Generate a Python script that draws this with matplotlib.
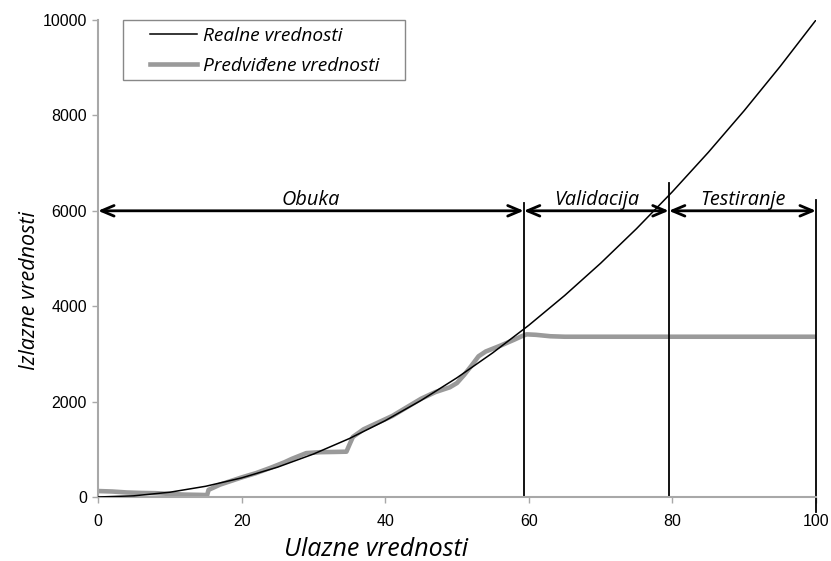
import numpy as np
import matplotlib
matplotlib.use('Agg')
import matplotlib.pyplot as plt
from matplotlib.patches import Rectangle

# real values (read at steps of 5)
x_real = [0, 5, 10, 15, 20, 25, 30, 35, 40, 45, 50, 55, 60, 65, 70, 75, 80, 85, 90, 95, 100]
y_real = [0, 25, 100, 225, 400, 625, 900, 1225, 1600, 2025, 2500, 3025, 3600, 4225, 4900,
          5625, 6400, 7225, 8100, 9025, 10000]

# predicted values
x_pred = [0, 2, 4, 6, 8, 10, 12, 14, 15.2, 15.4, 17, 19, 20, 22, 24, 26, 27, 29, 31, 33, 34.6,
          35, 35.5, 37, 39, 41, 43, 45, 47, 49, 50, 51, 52, 53, 54, 56, 58, 59, 59.7, 61, 63,
          65, 70, 80, 90, 100]
y_pred = [125, 115, 95, 85, 80, 65, 50, 45, 40, 150, 260, 360, 410, 500, 610, 730, 800, 920,
          940, 945, 950, 1090, 1260, 1420, 1560, 1700, 1880, 2060, 2200, 2300, 2390, 2560,
          2750, 2950, 3050, 3170, 3300, 3370, 3410, 3400, 3370, 3360, 3360, 3360, 3360, 3360]

# phase boundaries and labels
bounds = [0, 59.3, 79.5, 100]
phases = ['Obuka', 'Validacija', 'Testiranje']
line_tops = [6160, 6580, 6230]

ital = {'family': 'Open Sans', 'style': 'italic'}

fig = plt.figure(figsize=(8.31, 5.61), dpi=100)
ax = fig.add_axes([98/831, 1-497/561, (816-98)/831, (497-20)/561])

ax.plot(x_real, y_real, color='black', linewidth=1.1, label='Realne vrednosti', zorder=3)
ax.plot(x_pred, y_pred, color='#9a9a9a', linewidth=3.3, label='Predviđene vrednosti', zorder=2)

# vertical boundary lines
ax.plot([bounds[1], bounds[1]], [0, line_tops[0]], color='black', lw=1.3, clip_on=False)
ax.plot([bounds[2], bounds[2]], [0, line_tops[1]], color='black', lw=1.3, clip_on=False)
ax.plot([bounds[3], bounds[3]], [-320, line_tops[2]], color='black', lw=1.3, clip_on=False)

for i, name in enumerate(phases):
    a, b = bounds[i], bounds[i+1]
    ax.annotate('', xy=(a, 6000), xytext=(b, 6000),
                arrowprops=dict(arrowstyle='<->,head_length=0.9,head_width=0.38',
                                color='black', lw=2, shrinkA=0, shrinkB=0),
                annotation_clip=False)
    ax.text((a+b)/2, 6130, name, ha='center', va='baseline', fontsize=14.3, **ital)

ax.set_xlim(0, 100)
ax.set_ylim(0, 10000)
ax.set_xticks([0, 20, 40, 60, 80, 100])
ax.set_yticks([0, 2000, 4000, 6000, 8000, 10000])
for lab in ax.get_xticklabels() + ax.get_yticklabels():
    lab.set_fontfamily('Liberation Sans')
    lab.set_fontsize(11.5)
ax.tick_params(direction='out', length=4, color='#a8a8a8', width=1)
ax.tick_params(axis='y', pad=4)
ax.tick_params(axis='x', pad=8)

for s in ['top', 'right']:
    ax.spines[s].set_visible(False)
for s in ['left', 'bottom']:
    ax.spines[s].set_color('#a8a8a8')
    ax.spines[s].set_linewidth(1.5)

ax.set_xlabel('Ulazne vrednosti', fontsize=18, **ital)
ax.set_ylabel('Izlazne vrednosti', fontsize=15.5, **ital)
ax.xaxis.set_label_coords(0.387, -0.111)
ax.yaxis.set_label_coords(-0.096, 0.432)
ax.xaxis.label.set_va('center')
ax.yaxis.label.set_va('center')

# legend box drawn separately so its padding matches
box = Rectangle((123/831, 1-80/561), 282/831, 60/561, transform=fig.transFigure,
                facecolor='white', edgecolor='#888888', linewidth=1, zorder=5, clip_on=False)
ax.add_patch(box)
leg = ax.legend(loc='upper left', bbox_to_anchor=(146/831, 1-23/561),
                bbox_transform=fig.transFigure, borderaxespad=0, frameon=False,
                prop={'family': 'Open Sans', 'style': 'italic', 'size': 13.8},
                handlelength=2.45, handletextpad=0.3, borderpad=0.2, labelspacing=0.62)
leg.set_zorder(6)

fig.savefig('out.png', dpi=100)
